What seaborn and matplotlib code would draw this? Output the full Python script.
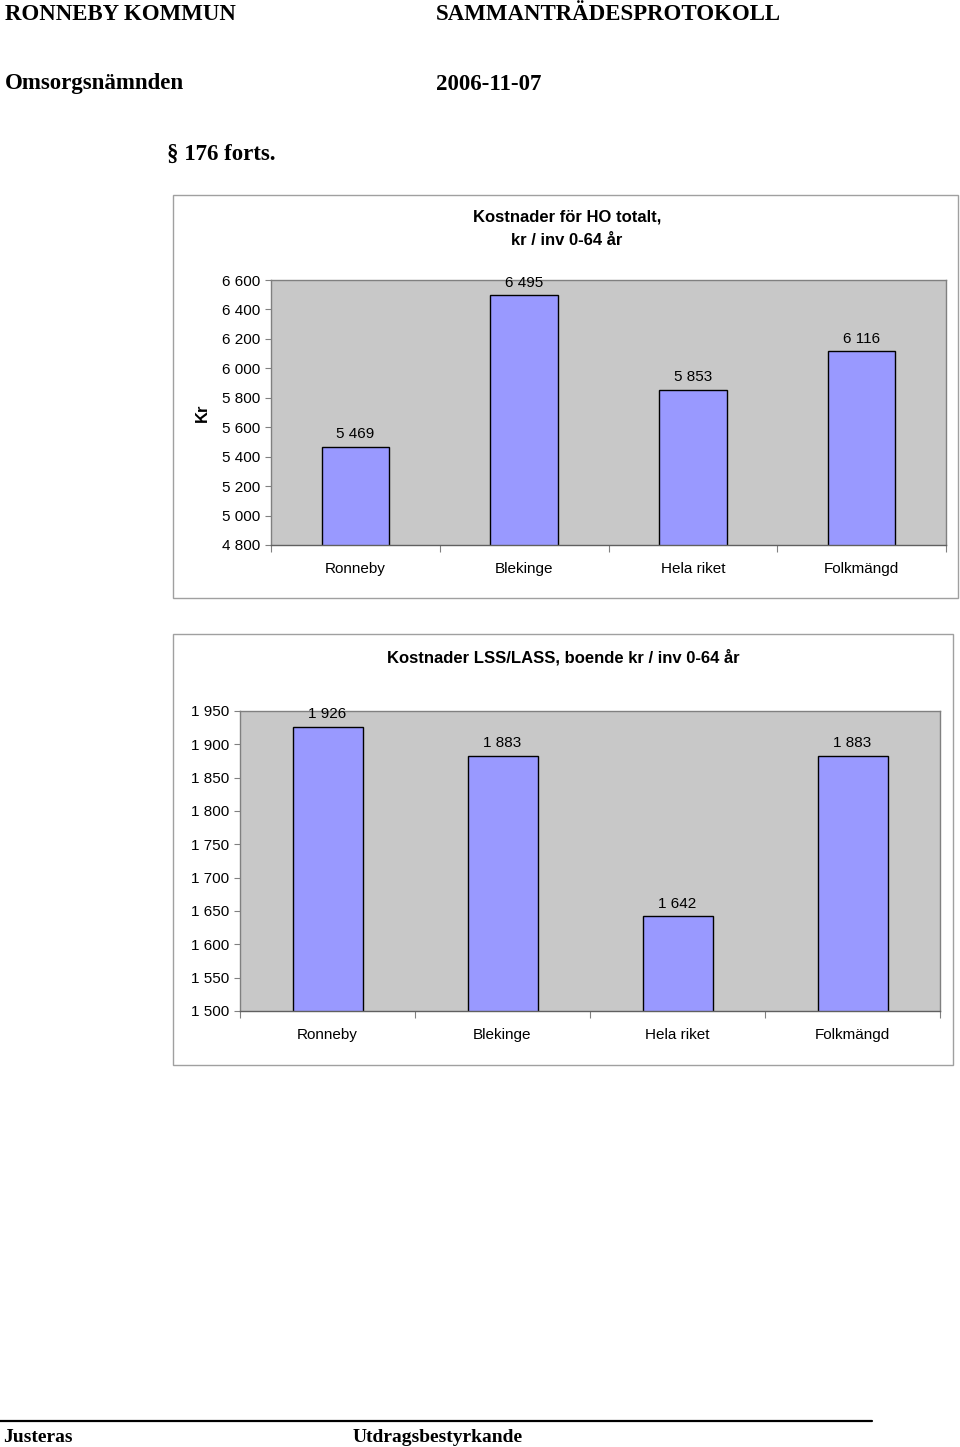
import matplotlib
matplotlib.use("Agg")
import matplotlib.pyplot as plt
import seaborn as sns
import pandas as pd
from matplotlib.patches import Rectangle
from matplotlib.lines import Line2D

categories = ["Ronneby", "Blekinge", "Hela riket", "Folkmängd"]
ho_values = [5469, 6495, 5853, 6116]
lss_values = [1926, 1883, 1642, 1883]
ho_ticks = [4800, 5000, 5200, 5400, 5600, 5800, 6000, 6200, 6400, 6600]
lss_ticks = [1500, 1550, 1600, 1650, 1700, 1750, 1800, 1850, 1900, 1950]
title1 = "Kostnader för HO totalt,\nkr / inv 0-64 år"
title2 = "Kostnader LSS/LASS, boende kr / inv 0-64 år"

sns.set_theme(style="white")
plt.rcParams['font.family'] = ['Liberation Sans', 'DejaVu Sans']
plt.rcParams['text.color'] = 'black'
plt.rcParams['axes.labelcolor'] = 'black'

W, H = 960, 1447
fig = plt.figure(figsize=(W / 100, H / 100), dpi=100)

def fx(px):
    return px / W

def fy(py):
    return 1 - py / H

serif = ['Liberation Serif', 'DejaVu Serif']
hdr = dict(family=serif, fontweight='bold', fontsize=16.5, va='center', ha='left', color='black')
fig.text(fx(5), fy(14), "RONNEBY KOMMUN", **hdr)
fig.text(fx(436), fy(14), "SAMMANTRÄDESPROTOKOLL", **hdr)
fig.text(fx(5), fy(84), "Omsorgsnämnden", **hdr)
fig.text(fx(436), fy(84), "2006-11-07", **hdr)
fig.text(fx(167), fy(154), "§ 176 forts.", **hdr)

# footer
fig.add_artist(Line2D([fx(0), fx(872)], [fy(1421), fy(1421)], color='black', lw=1.6))
ftr = dict(family=serif, fontweight='bold', fontsize=14, va='center', ha='left', color='black')
fig.text(fx(3), fy(1437), "Justeras", **ftr)
fig.text(fx(353), fy(1437), "Utdragsbestyrkande", **ftr)

# chart frames
frames = [(173, 195, 958, 598), (173, 634, 953, 1065)]
for (x0, y0, x1, y1) in frames:
    fig.add_artist(Rectangle((fx(x0), fy(y1)), fx(x1) - fx(x0), fy(y0) - fy(y1),
                             fill=False, edgecolor='#a0a0a0', lw=1.0))

def fmt(v):
    return f"{v:,}".replace(",", " ")

def draw(ax_rect, values, ticks, title, title_x, title_y, ylabel=None):
    ax = fig.add_axes(ax_rect)
    df = pd.DataFrame({"cat": categories, "val": values})
    sns.barplot(data=df, x="cat", y="val", ax=ax, color="#9999FF", saturation=1,
                width=0.4, edgecolor="black", linewidth=1.0)
    ax.set_facecolor("#C8C8C8")
    ax.set_ylim(ticks[0], ticks[-1])
    ax.set_xlim(-0.5, len(categories) - 0.5)
    ax.set_yticks(ticks)
    ax.set_yticklabels([fmt(t) for t in ticks], fontsize=11)
    ax.set_xticks(range(len(categories)))
    ax.set_xticklabels(categories, fontsize=11)
    ax.set_xticks([i - 0.5 for i in range(len(categories) + 1)], minor=True)
    ax.tick_params(axis='x', which='major', length=0, pad=12, labelcolor='black')
    ax.tick_params(axis='x', which='minor', length=5, color='#808080', width=0.8, bottom=True)
    ax.tick_params(axis='y', length=4, color='#808080', width=0.8, left=True, pad=4,
                   labelcolor='black')
    for s in ax.spines.values():
        s.set_color('#808080')
        s.set_linewidth(1.0)
    ax.spines['bottom'].set_color('#606060')
    ax.set_xlabel("")
    ax.set_ylabel(ylabel if ylabel else "")
    if ylabel:
        ax.yaxis.label.set_fontweight('bold')
        ax.yaxis.label.set_fontsize(12)
    for c in ax.containers:
        ax.bar_label(c, labels=[fmt(v) for v in values], padding=4, fontsize=11,
                     color='black', clip_on=False)
    fig.text(title_x, title_y, title, ha='center', va='center', color='black',
             fontsize=12, fontweight='bold', linespacing=1.7)
    return ax

ax1 = draw([fx(271), fy(545), fx(946) - fx(271), fy(280) - fy(545)],
           ho_values, ho_ticks, title1, fx(567), fy(229), ylabel="Kr")
ax1.yaxis.set_label_coords(-0.09, 0.5)
ax2 = draw([fx(240), fy(1011), fx(940) - fx(240), fy(711) - fy(1011)],
           lss_values, lss_ticks, title2, fx(563), fy(657))

fig.savefig("out.png", dpi=100, facecolor='white')
